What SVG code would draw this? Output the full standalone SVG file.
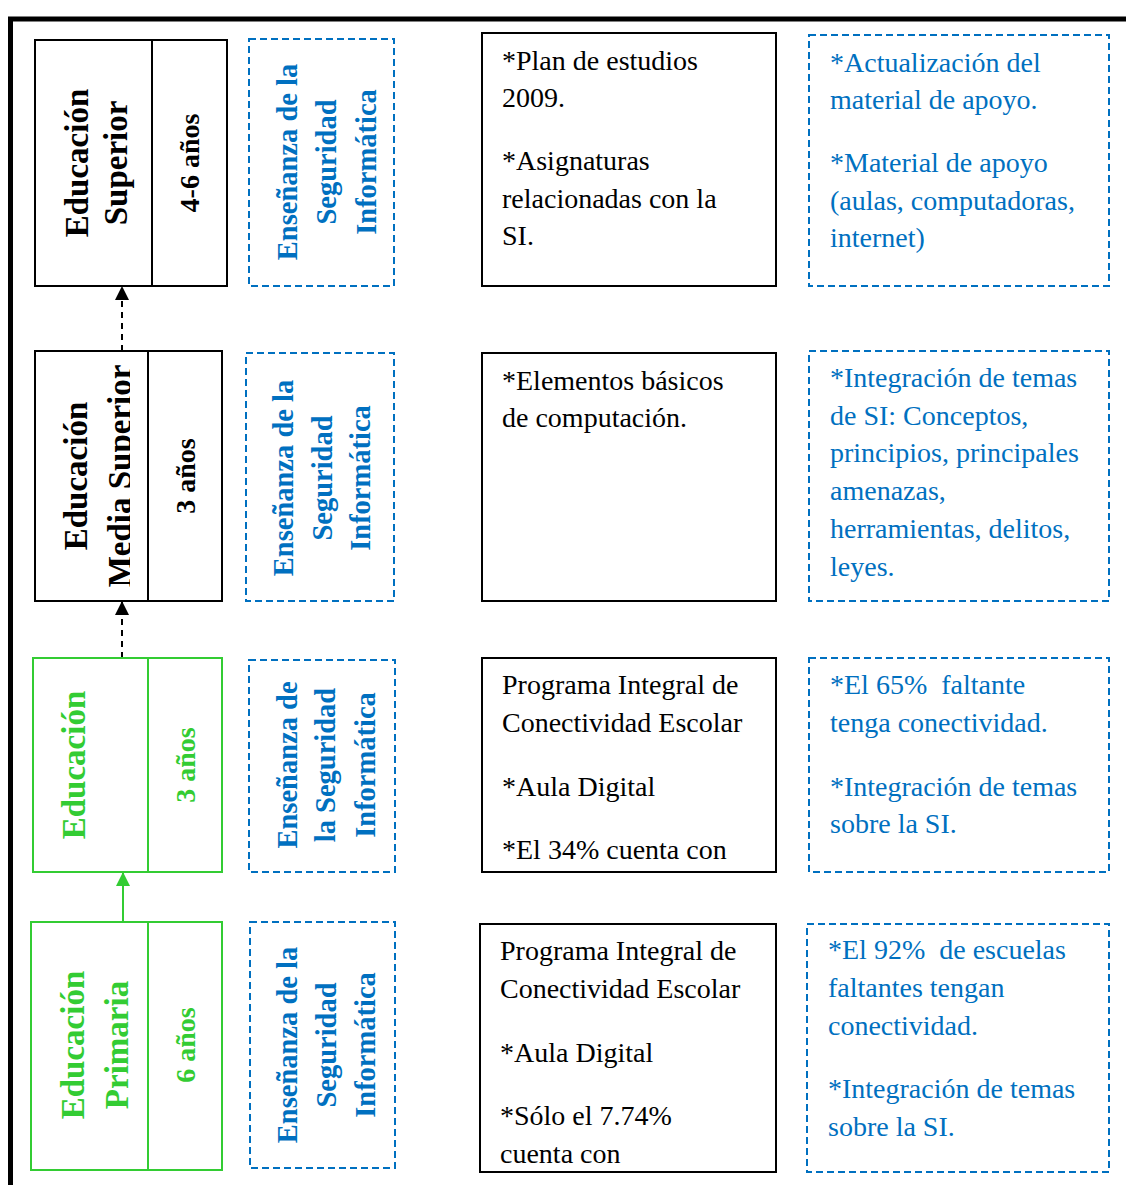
<svg xmlns="http://www.w3.org/2000/svg" width="1126" height="1185" viewBox="0 0 1126 1185">
<style>
text{font-family:"Liberation Serif","Times New Roman",serif}
.lvl{font-weight:bold;font-size:33px;text-anchor:middle}
.yrs{font-weight:bold;font-size:28px;text-anchor:middle}
.ens{font-weight:bold;font-size:28.5px;text-anchor:middle;fill:#0070C0}
.body{font-size:28px;fill:#000}
.blue{font-size:28px;fill:#0070C0}
.bk{fill:#fff;stroke:#000;stroke-width:2}
.gr{fill:#fff;stroke:#33CC33;stroke-width:2}
.dsh{fill:#fff;stroke:#0070C0;stroke-width:2;stroke-dasharray:7 4}
.g{fill:#33CC33}
</style>
<defs>
<marker id="ab" markerWidth="14" markerHeight="14" refX="14" refY="7" orient="auto" markerUnits="userSpaceOnUse"><path d="M0,0 L14,7 L0,14 Z" fill="#000"/></marker>
<marker id="ag" markerWidth="14" markerHeight="14" refX="14" refY="7" orient="auto" markerUnits="userSpaceOnUse"><path d="M0,0 L14,7 L0,14 Z" fill="#33CC33"/></marker>
<clipPath id="clipMS"><rect x="35" y="351" width="95" height="250"/></clipPath>
</defs>
<rect width="1126" height="1185" fill="#fff"/>
<g id="frame">
<line x1="8" y1="19" x2="1126" y2="19" stroke="#000" stroke-width="5"/>
<line x1="10.5" y1="17" x2="10.5" y2="1185" stroke="#000" stroke-width="5"/>
</g>
<g id="connectors">
<line x1="122" y1="351" x2="122" y2="286" stroke="#000" stroke-width="2" stroke-dasharray="6 5" marker-end="url(#ab)"/>
<line x1="122" y1="658" x2="122" y2="601" stroke="#000" stroke-width="2" stroke-dasharray="6 5" marker-end="url(#ab)"/>
<line x1="123" y1="922" x2="123" y2="872" stroke="#33CC33" stroke-width="2" marker-end="url(#ag)"/>
</g>
<g id="superior">
<rect class="bk" x="35" y="40" width="192" height="246"/>
<line x1="152" y1="40" x2="152" y2="286" stroke="#000" stroke-width="2"/>
<text class="lvl" transform="translate(88,163) rotate(-90)">Educación</text>
<text class="lvl" transform="translate(127,163) rotate(-90)">Superior</text>
<text class="yrs" transform="translate(199,163) rotate(-90)">4-6 años</text>
</g>
<g id="ens1">
<rect class="dsh" x="249" y="39" width="145" height="247"/>
<text class="ens" transform="translate(297,162) rotate(-90)">Enseñanza de la</text>
<text class="ens" transform="translate(336,162) rotate(-90)">Seguridad</text>
<text class="ens" transform="translate(376,162) rotate(-90)">Informática</text>
</g>
<g id="txt1">
<rect class="bk" x="482" y="33" width="294" height="253"/>
<text class="body" x="502" y="70">*Plan de estudios</text>
<text class="body" x="502" y="107">2009.</text>
<text class="body" x="502" y="170">*Asignaturas</text>
<text class="body" x="502" y="208">relacionadas con la</text>
<text class="body" x="502" y="245">SI.</text>
</g>
<g id="blue1">
<rect class="dsh" x="809" y="35" width="300" height="251"/>
<text class="blue" x="830" y="72">*Actualización del</text>
<text class="blue" x="830" y="109">material de apoyo.</text>
<text class="blue" x="830" y="172">*Material de apoyo</text>
<text class="blue" x="830" y="210">(aulas, computadoras,</text>
<text class="blue" x="830" y="247">internet)</text>
</g>
<g id="mediasup">
<rect class="bk" x="35" y="351" width="187" height="250"/>
<line x1="148" y1="351" x2="148" y2="601" stroke="#000" stroke-width="2"/>
<text class="lvl" transform="translate(87,476) rotate(-90)">Educación</text>
<g clip-path="url(#clipMS)"><text class="lvl" transform="translate(131,476) rotate(-90)">Media Superior</text></g>
<text class="yrs" transform="translate(195,476) rotate(-90)">3 años</text>
</g>
<g id="ens2">
<rect class="dsh" x="246" y="353" width="148" height="248"/>
<text class="ens" transform="translate(293,478) rotate(-90)">Enseñanza de la</text>
<text class="ens" transform="translate(332,478) rotate(-90)">Seguridad</text>
<text class="ens" transform="translate(370,478) rotate(-90)">Informática</text>
</g>
<g id="txt2">
<rect class="bk" x="482" y="353" width="294" height="248"/>
<text class="body" x="502" y="390">*Elementos básicos</text>
<text class="body" x="502" y="427">de computación.</text>
</g>
<g id="blue2">
<rect class="dsh" x="809" y="351" width="300" height="250"/>
<text class="blue" x="830" y="387">*Integración de temas</text>
<text class="blue" x="830" y="425">de SI: Conceptos,</text>
<text class="blue" x="830" y="462">principios, principales</text>
<text class="blue" x="830" y="500">amenazas,</text>
<text class="blue" x="830" y="538">herramientas, delitos,</text>
<text class="blue" x="830" y="576">leyes.</text>
</g>
<g id="secundaria">
<rect class="gr" x="33" y="658" width="189" height="214"/>
<line x1="148" y1="658" x2="148" y2="872" stroke="#33CC33" stroke-width="2"/>
<text class="lvl g" transform="translate(85,765) rotate(-90)">Educación</text>
<text class="yrs g" transform="translate(195,765) rotate(-90)">3 años</text>
</g>
<g id="ens3">
<rect class="dsh" x="249" y="660" width="146" height="212"/>
<text class="ens" transform="translate(297,765) rotate(-90)">Enseñanza de</text>
<text class="ens" transform="translate(335,765) rotate(-90)">la Seguridad</text>
<text class="ens" transform="translate(375,765) rotate(-90)">Informática</text>
</g>
<g id="txt3">
<rect class="bk" x="482" y="658" width="294" height="214"/>
<text class="body" x="502" y="694">Programa Integral de</text>
<text class="body" x="502" y="732">Conectividad Escolar</text>
<text class="body" x="502" y="796">*Aula Digital</text>
<text class="body" x="502" y="859">*El 34% cuenta con</text>
</g>
<g id="blue3">
<rect class="dsh" x="809" y="658" width="300" height="214"/>
<text class="blue" x="830" y="694" xml:space="preserve">*El 65%  faltante</text>
<text class="blue" x="830" y="732">tenga conectividad.</text>
<text class="blue" x="830" y="796">*Integración de temas</text>
<text class="blue" x="830" y="833">sobre la SI.</text>
</g>
<g id="primaria">
<rect class="gr" x="31" y="922" width="191" height="248"/>
<line x1="148" y1="922" x2="148" y2="1170" stroke="#33CC33" stroke-width="2"/>
<text class="lvl g" transform="translate(84,1045) rotate(-90)">Educación</text>
<text class="lvl g" transform="translate(128,1045) rotate(-90)">Primaria</text>
<text class="yrs g" transform="translate(195,1045) rotate(-90)">6 años</text>
</g>
<g id="ens4">
<rect class="dsh" x="250" y="922" width="145" height="246"/>
<text class="ens" transform="translate(297,1045) rotate(-90)">Enseñanza de la</text>
<text class="ens" transform="translate(336,1045) rotate(-90)">Seguridad</text>
<text class="ens" transform="translate(375,1045) rotate(-90)">Informática</text>
</g>
<g id="txt4">
<rect class="bk" x="480" y="924" width="296" height="248"/>
<text class="body" x="500" y="960">Programa Integral de</text>
<text class="body" x="500" y="998">Conectividad Escolar</text>
<text class="body" x="500" y="1062">*Aula Digital</text>
<text class="body" x="500" y="1125">*Sólo el 7.74%</text>
<text class="body" x="500" y="1163">cuenta con</text>
</g>
<g id="blue4">
<rect class="dsh" x="807" y="924" width="302" height="248"/>
<text class="blue" x="828" y="959" xml:space="preserve">*El 92%  de escuelas</text>
<text class="blue" x="828" y="997">faltantes tengan</text>
<text class="blue" x="828" y="1035">conectividad.</text>
<text class="blue" x="828" y="1098">*Integración de temas</text>
<text class="blue" x="828" y="1136">sobre la SI.</text>
</g>
</svg>
